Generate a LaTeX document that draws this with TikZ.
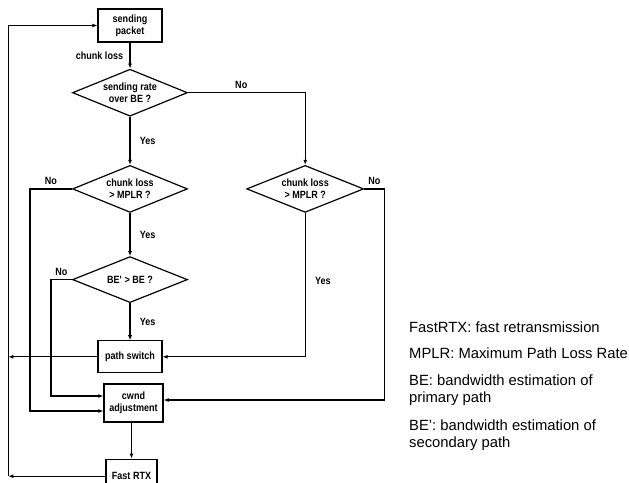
\documentclass[tikz,border=0pt]{standalone}
\usepackage{fontspec}
\setmainfont{Liberation Sans}
\newfontfamily\flowfont[FakeStretch=0.86]{Liberation Sans}
\usetikzlibrary{positioning,shapes.geometric,arrows.meta}

\begin{document}
\begin{tikzpicture}[
    x=1pt, y=-1pt,
    node distance=20pt,
    every node/.style={font=\flowfont\bfseries\fontsize{10.5}{12}\selectfont},
    box/.style={draw, line width=1.2pt, minimum width=64pt, minimum height=33pt, align=center, inner sep=0pt},
    decision/.style={draw, diamond, aspect=2.4, line width=1.2pt, minimum width=115pt, minimum height=47pt, align=center, inner sep=0pt},
    arrow/.style={-{Latex[length=5pt,width=4pt]}, line width=1.2pt},
    legend/.style={anchor=west, align=left, inner sep=0pt, font=\normalfont\fontsize{14.8}{17}\selectfont},
]
    \useasboundingbox (0,0) rectangle (629,482);
    \clip (0,0) rectangle (629,482);

    \node[box] (packet) at (130,25.5) {sending\\packet};
    \node[decision, below=26pt of packet] (rate) {sending rate\\over BE ?};
    \node[decision, below=48pt of rate] (lossA) {chunk loss\\> MPLR ?};
    \node[decision, right=58pt of lossA, minimum width=117pt] (lossB) {chunk loss\\> MPLR ?};
    \node[decision, below=43pt of lossA, minimum height=46pt] (bw) {BE\textquotesingle{} > BE ?};
    \node[box, below=37pt of bw, minimum height=32pt] (switch) {path switch};
    \node[box, below=10pt of switch, xshift=3.5pt, minimum width=59pt, minimum height=38pt] (cwnd) {cwnd\\adjustment};
    \node[box, below=36pt of cwnd, xshift=-2pt, minimum width=51pt, minimum height=34pt] (rtx) {Fast RTX};
    \coordinate (back) at ([xshift=-97pt]rtx.west);

    \draw[arrow] (packet) -- node[left=3pt] {chunk loss} (rate);
    \draw[arrow] (rate.east) -| node[pos=0.227, above] {No} (lossB.north);
    \draw[arrow] (rate) -- node[right=6pt] {Yes} (lossA);
    \draw[arrow] (lossA) -- node[right=6pt] {Yes} (bw);
    \draw[arrow] (bw) -- node[right=6pt] {Yes} (switch);
    \draw[arrow] (lossA.west) -- node[above] {No} ++(-42,0) |- ([yshift=-8pt]cwnd.west);
    \draw[arrow] (bw.west) -- node[above] {No} ++(-21,0) |- ([yshift=7pt]cwnd.west);
    \draw[arrow] (lossB.south) |- node[pos=0.235, right=6pt] {Yes} (switch.east);
    \draw[arrow] (lossB.east) -- node[above] {No} ++(20,0) |- ([yshift=3pt]cwnd.east);
    \draw[arrow] (cwnd.south -| rtx.north) -- (rtx.north);
    \draw[arrow] (switch.west) -- (switch.west -| back);
    \draw[arrow] (rtx.west) -- (back);
    \draw[arrow] (back) |- (packet.west);

    \node[legend] (lgrtx) at (409,327) {FastRTX: fast retransmission};
    \node[legend] (lgmplr) at (409,353) {MPLR: Maximum Path Loss Rate};
    \node[legend] (lgbe) at (409,390) {BE: bandwidth estimation of\\primary path};
    \node[legend] (lgbes) at (409,435) {BE': bandwidth estimation of\\secondary path};
\end{tikzpicture}
\end{document}
